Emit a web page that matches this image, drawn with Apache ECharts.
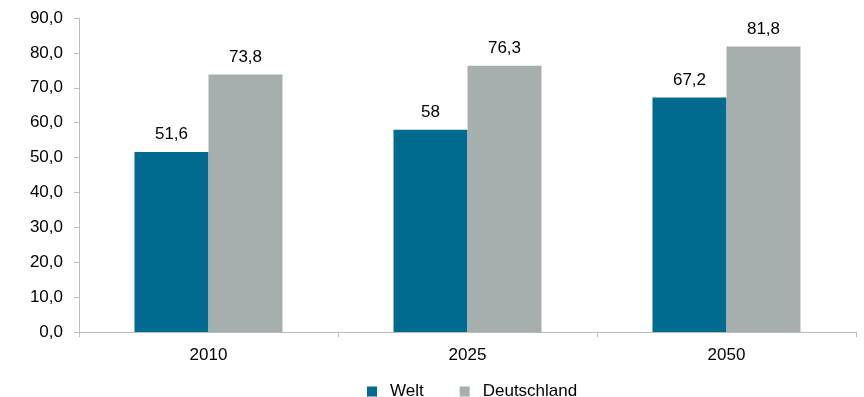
<!DOCTYPE html>
<html lang="de">
<head>
    <meta charset="UTF-8">
    <title>Welt / Deutschland</title>
    <script src="https://cdn.jsdelivr.net/npm/echarts@6/dist/echarts.min.js"></script>
    <style>
        html, body { margin: 0; padding: 0; background: #fff; }
        #container { width: 864px; height: 397px; }
    </style>
</head>
<body>
<div id="container"></div>
<script>
    var years = ['2010', '2025', '2050'];
    var welt = [51.6, 58, 67.2];
    var deutschland = [73.8, 76.3, 81.8];

    function deNum(v) {
        return String(v).replace('.', ',');
    }

    var myChart = echarts.init(document.getElementById('container'));
    var font = '"Liberation Sans", Arial, sans-serif';

    var labelStyle = {
        show: true,
        position: 'top',
        distance: 9,
        fontSize: 17,
        color: '#000',
        formatter: function (p) { return deNum(p.value); }
    };

    var option = {
        animation: false,
        textStyle: { fontFamily: font },
        grid: { left: 79, right: 8, top: 18, bottom: 65 },
        legend: {
            top: 378,
            left: 362,
            itemWidth: 10,
            itemHeight: 10,
            itemGap: 36,
            icon: 'rect',
            textStyle: { fontSize: 17, color: '#000', fontFamily: font, padding: [0, 0, 0, 8] },
            data: ['Welt', 'Deutschland']
        },
        xAxis: {
            type: 'category',
            data: years,
            axisLine: { lineStyle: { color: '#BDBDBD', width: 1 } },
            axisTick: { show: true, length: 5, lineStyle: { color: '#BDBDBD' } },
            axisLabel: { fontSize: 17, color: '#000', margin: 15 }
        },
        yAxis: {
            type: 'value',
            min: 0,
            max: 90,
            interval: 10,
            axisLine: { show: true, lineStyle: { color: '#BDBDBD', width: 1 } },
            axisTick: { show: true, length: 5, lineStyle: { color: '#BDBDBD' } },
            splitLine: { show: false },
            axisLabel: {
                fontSize: 17,
                color: '#000',
                margin: 16,
                formatter: function (v) { return v.toFixed(1).replace('.', ','); }
            }
        },
        series: [
            {
                name: 'Welt',
                type: 'bar',
                data: welt,
                barWidth: 74,
                barGap: '0%',
                itemStyle: { color: '#006B8F' },
                label: labelStyle
            },
            {
                name: 'Deutschland',
                type: 'bar',
                data: deutschland,
                barWidth: 74,
                itemStyle: { color: '#A7AFAE' },
                label: labelStyle
            }
        ]
    };

    myChart.setOption(option);
</script>
</body>
</html>
